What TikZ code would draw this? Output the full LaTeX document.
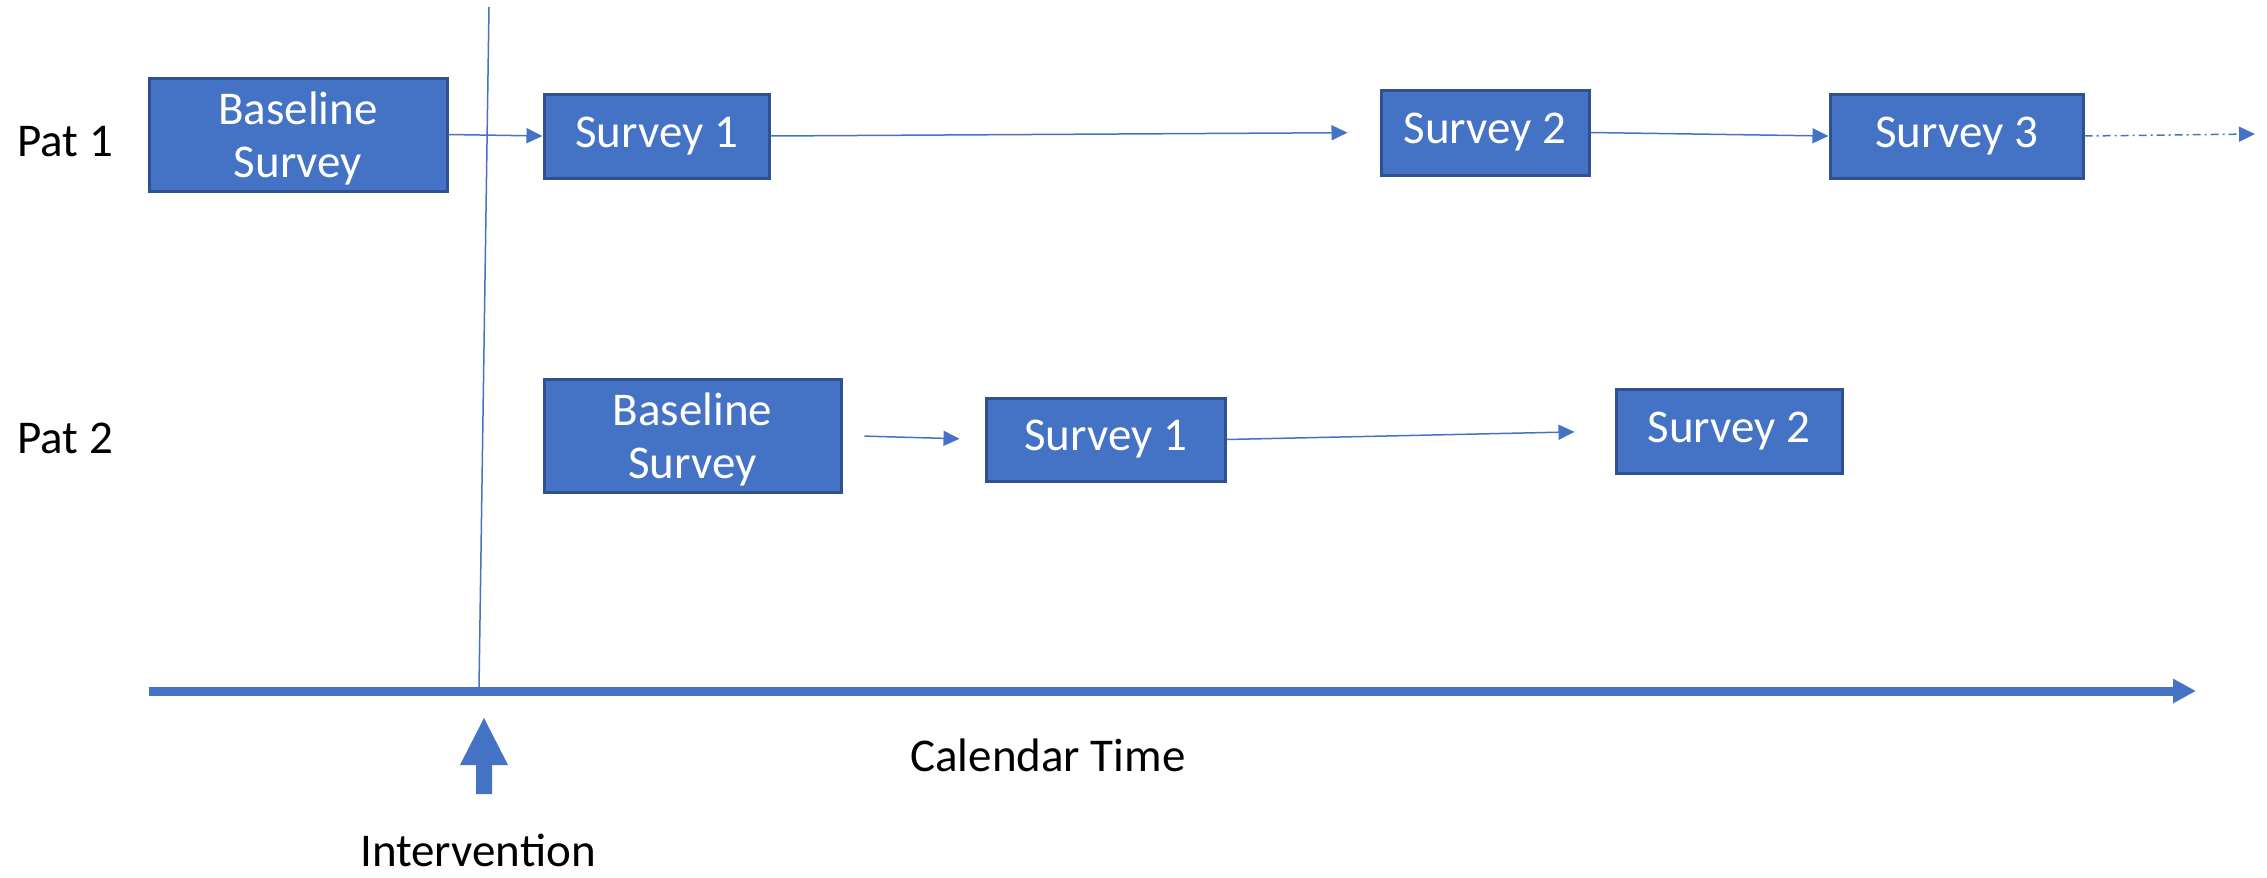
\documentclass[tikz,border=0pt]{standalone}
\usepackage{fontspec}
\setmainfont{Carlito}
\usetikzlibrary{arrows.meta}
\definecolor{surveyfill}{RGB}{68,114,196}
\definecolor{surveyborder}{RGB}{47,82,143}
\definecolor{lineblue}{RGB}{68,114,196}
\tikzset{
  survey/.style={rectangle, draw=surveyborder, line width=1.5pt, fill=surveyfill,
                 text=white, align=center, inner sep=0pt, font=\fontsize{23.5}{28}\selectfont},
  basebox/.style={survey, text depth=0pt, font=\fontsize{23.5}{26.5}\selectfont},
  patlabel/.style={anchor=base west, inner sep=0pt, font=\fontsize{23.5}{28}\selectfont},
  axislabel/.style={anchor=base, inner sep=0pt, font=\fontsize{23.5}{28}\selectfont},
  arr/.style={-{Triangle[length=8pt,width=7.5pt]}, line width=0.75pt, draw=lineblue},
  dotarr/.style={arr, dash pattern=on 4pt off 2pt on 1pt off 2pt},
  timeaxis/.style={-{Triangle[length=11.5pt,width=11.5pt]}, line width=4.5pt, draw=lineblue}
}

\begin{document}
\begin{tikzpicture}[x=0.5pt, y=-0.5pt]
\useasboundingbox (0,0) rectangle (2267,878);
% patient labels
\node[patlabel] (pat1) at (17,156) {Pat 1};
\node[patlabel] (pat2) at (17,453) {Pat 2};
% patient 1 surveys
\node[basebox, minimum width=149pt, minimum height=56.5pt] (base1) at (298,134.5) {Baseline\\Survey};
\node[survey, minimum width=112.5pt, minimum height=42pt] (sv11) at (656.5,136) {Survey 1};
\node[survey, minimum width=104pt, minimum height=42.5pt] (sv12) at (1485,132.5) {Survey 2};
\node[survey, minimum width=126.5pt, minimum height=42pt] (sv13) at (1956.5,136) {Survey 3};
\coordinate (more1) at (2255,134);
\draw[arr] (base1.east) -- (sv11.west);
\draw[arr, shorten >=16pt] (sv11.east) -- (sv12.west);
\draw[arr] (sv12.east) -- (sv13.west);
\draw[dotarr] (sv13.east) -- (more1);
% patient 2 surveys
\node[basebox, minimum width=148.5pt, minimum height=56.5pt] (base2) at (692.5,435.5) {Baseline\\Survey};
\node[survey, minimum width=119.5pt, minimum height=41.5pt] (sv21) at (1105.5,439.5) {Survey 1};
\node[survey, minimum width=113pt, minimum height=42pt] (sv22) at (1729,431) {Survey 2};
\draw[arr, shorten <=11pt, shorten >=12.5pt] (base2.east) -- (sv21.west);
\draw[arr, shorten >=20pt] (sv21.east) -- (sv22.west);
% intervention line and calendar time
\coordinate (vtop) at (489,7);
\coordinate (vfoot) at (479,688);
\draw[lineblue, line width=0.75pt] (vtop) -- (vfoot);
\coordinate (t0) at (149,691);
\coordinate (t1) at (2196,691);
\draw[timeaxis] (t0) -- (t1);
\fill[lineblue] (476,794) -- (476,765) -- (460,765) -- (484,718) -- (508,765)
  -- (492,765) -- (492,794) -- cycle;
\node[axislabel] (interv) at (478,866) {Intervention};
\node[axislabel] (caltime) at (1048,771) {Calendar Time};
\end{tikzpicture}
\end{document}
